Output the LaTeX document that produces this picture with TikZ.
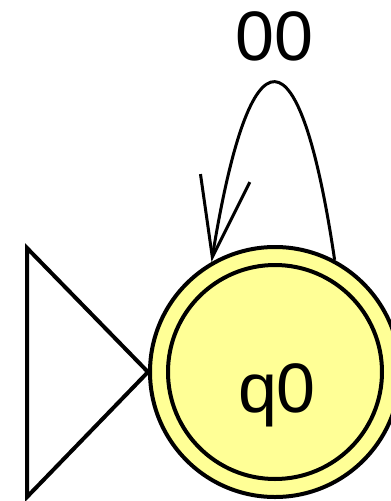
\documentclass[tikz,border=0pt]{standalone}
\usepackage{fontspec}
\setmainfont{Liberation Sans}
\usetikzlibrary{arrows.meta}
\definecolor{statefill}{RGB}{255,255,150}
\begin{document}
\begin{tikzpicture}[x=1pt,y=-1pt,
  state/.style={circle,draw,line width=4pt,fill=statefill,minimum size=250pt,inner sep=0pt},
  edge/.style={line width=3pt,-{Straight Barb[length=80pt,width=50pt,line width=3pt]}},
  statetext/.style={font=\fontsize{70}{84}\selectfont,inner sep=0pt}]
  \useasboundingbox (0,0) rectangle (391,501);
  % State
  \node[state] (q0) at (275,372) {};
  \draw[line width=4pt] (q0.center) circle (107);
  \node[statetext,anchor=base] (q0name) at (277,412) {q0};
  % Loop
  \draw[edge] (q0.62) .. controls +(-35,-236) and +(39,-240) .. (q0.120)
    node[statetext,pos=0.5,above=20pt] (looplabel) {00};
  % Initial arrow
  \draw[line width=4pt,line join=miter] (27,248) -- (27,497) -- (q0.west) -- cycle;
\end{tikzpicture}
\end{document}
